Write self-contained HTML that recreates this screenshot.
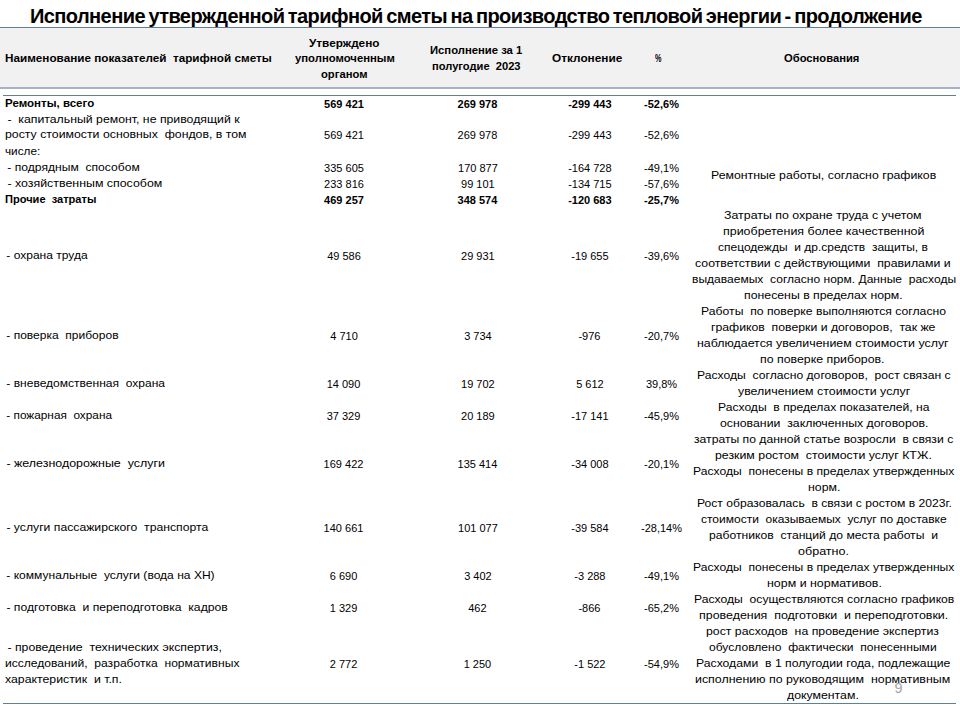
<!DOCTYPE html>
<html lang="ru"><head><meta charset="utf-8"><title>Исполнение утвержденной тарифной сметы</title>
<style>
html,body{margin:0;padding:0;background:#fff;}
body{width:960px;height:720px;position:relative;overflow:hidden;font-family:"Liberation Sans",sans-serif;color:#000;}
.hdr{position:absolute;left:0;top:27px;width:960px;height:60px;background:#f1f1f1;border-top:1px solid #637d98;}
.hl1{position:absolute;left:0;top:87px;width:960px;height:2px;background:#a7b2c6;}
.hl2{position:absolute;left:3px;top:95px;width:953px;height:1px;background:#5f7d9c;}
.hl3{position:absolute;left:3px;top:703px;width:953px;height:1px;background:#5f7d9c;}
.r,.b,.n,.nb,.t{position:absolute;white-space:pre;line-height:16px;transform-origin:0 0;}
.r{font-size:10.8px;}
.b{font-size:10.4px;font-weight:bold;}
.n{font-size:11.0px;}
.nb{font-size:11.0px;font-weight:bold;}
.t{font-size:20px;font-weight:bold;letter-spacing:-0.6px;word-spacing:-1.5px;}
.pg{position:absolute;left:894.4px;top:677.8px;font-size:14.5px;line-height:20px;color:#a6a6a6;}
</style></head><body>
<div class="hdr"></div><div class="hl1"></div><div class="hl2"></div><div class="hl3"></div>
<div class="pg">9</div>
<div class="b" style="left:4.57px;top:51.30px;transform:scaleX(1.1275);">Наименование показателей  тарифной сметы</div>
<div class="b" style="left:308.57px;top:35.50px;transform:scaleX(1.1339);">Утверждено</div>
<div class="b" style="left:294.63px;top:51.10px;transform:scaleX(1.0880);">уполномоченным</div>
<div class="b" style="left:320.79px;top:66.90px;transform:scaleX(1.0814);">органом</div>
<div class="b" style="left:430.33px;top:43.00px;transform:scaleX(1.0845);">Исполнение за 1</div>
<div class="b" style="left:431.59px;top:59.30px;transform:scaleX(1.0711);">полугодие  2023</div>
<div class="b" style="left:551.72px;top:51.20px;transform:scaleX(1.1377);">Отклонение</div>
<div class="b" style="left:654.66px;top:51.30px;transform:scaleX(0.7000);">%</div>
<div class="b" style="left:783.79px;top:51.30px;transform:scaleX(1.0786);">Обоснования</div>
<div class="b" style="left:5.21px;top:96.20px;transform:scaleX(1.1086);">Ремонты, всего</div>
<div class="r" style="left:4.37px;top:110.76px;transform:scaleX(1.1373);"> -  капитальный ремонт, не приводящий к</div>
<div class="r" style="left:5.21px;top:126.36px;transform:scaleX(1.1392);">росту стоимости основных  фондов, в том</div>
<div class="r" style="left:5.21px;top:142.66px;transform:scaleX(1.0875);">числе:</div>
<div class="r" style="left:3.94px;top:158.86px;transform:scaleX(1.1214);"> - подрядным  способом</div>
<div class="r" style="left:3.84px;top:175.16px;transform:scaleX(1.1470);"> - хозяйственным способом</div>
<div class="b" style="left:5.21px;top:191.80px;transform:scaleX(1.0640);">Прочие  затраты</div>
<div class="r" style="left:3.39px;top:247.01px;transform:scaleX(1.1130);"> - охрана труда</div>
<div class="r" style="left:3.40px;top:326.76px;transform:scaleX(1.1125);"> - поверка  приборов</div>
<div class="r" style="left:3.39px;top:374.96px;transform:scaleX(1.1141);"> - вневедомственная  охрана</div>
<div class="r" style="left:3.46px;top:407.06px;transform:scaleX(1.0938);"> - пожарная  охрана</div>
<div class="r" style="left:3.26px;top:455.16px;transform:scaleX(1.1504);"> - железнодорожные  услуги</div>
<div class="r" style="left:3.33px;top:518.51px;transform:scaleX(1.1303);"> - услуги пассажирского  транспорта</div>
<div class="r" style="left:3.38px;top:566.76px;transform:scaleX(1.1161);"> - коммунальные  услуги (вода на ХН)</div>
<div class="r" style="left:3.34px;top:598.86px;transform:scaleX(1.1276);"> - подготовка  и переподготовка  кадров</div>
<div class="r" style="left:4.37px;top:638.86px;transform:scaleX(1.1372);"> - проведение  технических экспертиз,</div>
<div class="r" style="left:4.58px;top:654.76px;transform:scaleX(1.1187);">исследований,  разработка  нормативных</div>
<div class="r" style="left:4.57px;top:670.76px;transform:scaleX(1.1382);">характеристик  и т.п.</div>
<div class="nb" style="left:324.12px;top:96.29px;">569 421</div>
<div class="nb" style="left:457.52px;top:96.29px;">269 978</div>
<div class="nb" style="left:568.18px;top:96.29px;">-299 443</div>
<div class="nb" style="left:644.07px;top:96.29px;">-52,6%</div>
<div class="n" style="left:324.12px;top:127.49px;">569 421</div>
<div class="n" style="left:457.52px;top:127.49px;">269 978</div>
<div class="n" style="left:568.18px;top:127.49px;">-299 443</div>
<div class="n" style="left:644.07px;top:127.49px;">-52,6%</div>
<div class="n" style="left:324.12px;top:159.99px;">335 605</div>
<div class="n" style="left:458.02px;top:159.99px;">170 877</div>
<div class="n" style="left:568.18px;top:159.99px;">-164 728</div>
<div class="n" style="left:644.07px;top:159.99px;">-49,1%</div>
<div class="n" style="left:324.12px;top:176.29px;">233 816</div>
<div class="n" style="left:461.07px;top:176.29px;">99 101</div>
<div class="n" style="left:568.18px;top:176.29px;">-134 715</div>
<div class="n" style="left:644.07px;top:176.29px;">-57,6%</div>
<div class="nb" style="left:324.12px;top:191.89px;">469 257</div>
<div class="nb" style="left:457.52px;top:191.89px;">348 574</div>
<div class="nb" style="left:568.18px;top:191.89px;">-120 683</div>
<div class="nb" style="left:644.07px;top:191.89px;">-25,7%</div>
<div class="n" style="left:327.17px;top:248.14px;">49 586</div>
<div class="n" style="left:461.07px;top:248.14px;">29 931</div>
<div class="n" style="left:571.24px;top:248.14px;">-19 655</div>
<div class="n" style="left:644.07px;top:248.14px;">-39,6%</div>
<div class="n" style="left:330.23px;top:327.89px;">4 710</div>
<div class="n" style="left:464.13px;top:327.89px;">3 734</div>
<div class="n" style="left:578.38px;top:327.89px;">-976</div>
<div class="n" style="left:644.07px;top:327.89px;">-20,7%</div>
<div class="n" style="left:326.67px;top:376.09px;">14 090</div>
<div class="n" style="left:461.07px;top:376.09px;">19 702</div>
<div class="n" style="left:576.13px;top:376.09px;">5 612</div>
<div class="n" style="left:645.90px;top:376.09px;">39,8%</div>
<div class="n" style="left:326.67px;top:408.19px;">37 329</div>
<div class="n" style="left:461.07px;top:408.19px;">20 189</div>
<div class="n" style="left:571.24px;top:408.19px;">-17 141</div>
<div class="n" style="left:644.07px;top:408.19px;">-45,9%</div>
<div class="n" style="left:323.62px;top:456.29px;">169 422</div>
<div class="n" style="left:457.52px;top:456.29px;">135 414</div>
<div class="n" style="left:571.24px;top:456.29px;">-34 008</div>
<div class="n" style="left:644.07px;top:456.29px;">-20,1%</div>
<div class="n" style="left:323.62px;top:519.64px;">140 661</div>
<div class="n" style="left:458.02px;top:519.64px;">101 077</div>
<div class="n" style="left:571.24px;top:519.64px;">-39 584</div>
<div class="n" style="left:641.01px;top:519.64px;">-28,14%</div>
<div class="n" style="left:329.73px;top:567.89px;">6 690</div>
<div class="n" style="left:464.13px;top:567.89px;">3 402</div>
<div class="n" style="left:574.30px;top:567.89px;">-3 288</div>
<div class="n" style="left:644.07px;top:567.89px;">-49,1%</div>
<div class="n" style="left:329.73px;top:599.99px;">1 329</div>
<div class="n" style="left:468.22px;top:599.99px;">462</div>
<div class="n" style="left:578.38px;top:599.99px;">-866</div>
<div class="n" style="left:644.07px;top:599.99px;">-65,2%</div>
<div class="n" style="left:329.73px;top:655.89px;">2 772</div>
<div class="n" style="left:463.63px;top:655.89px;">1 250</div>
<div class="n" style="left:574.30px;top:655.89px;">-1 522</div>
<div class="n" style="left:644.07px;top:655.89px;">-54,9%</div>
<div class="r" style="left:710.72px;top:166.76px;transform:scaleX(1.1383);">Ремонтные работы, согласно графиков</div>
<div class="r" style="left:724.14px;top:207.26px;transform:scaleX(1.1465);">Затраты по охране труда с учетом</div>
<div class="r" style="left:722.57px;top:223.24px;transform:scaleX(1.1517);">приобретения более качественной</div>
<div class="r" style="left:717.94px;top:239.22px;transform:scaleX(1.1117);">спецодежды  и др.средств  защиты, в</div>
<div class="r" style="left:695.14px;top:255.20px;transform:scaleX(1.1393);">соответствии с действующими  правилами и</div>
<div class="r" style="left:691.79px;top:271.18px;transform:scaleX(1.1153);">выдаваемых  согласно норм. Данные  расходы</div>
<div class="r" style="left:744.36px;top:287.16px;transform:scaleX(1.1391);">понесены в пределах норм.</div>
<div class="r" style="left:700.51px;top:303.14px;transform:scaleX(1.1306);">Работы  по поверке выполняются согласно</div>
<div class="r" style="left:710.79px;top:319.12px;transform:scaleX(1.1343);">графиков  поверки и договоров,  так же</div>
<div class="r" style="left:696.71px;top:335.10px;transform:scaleX(1.1475);">наблюдается увеличением стоимости услуг</div>
<div class="r" style="left:760.14px;top:351.08px;transform:scaleX(1.1426);">по поверке приборов.</div>
<div class="r" style="left:696.51px;top:367.06px;transform:scaleX(1.1263);">Расходы  согласно договоров,  рост связан с</div>
<div class="r" style="left:737.64px;top:383.04px;transform:scaleX(1.1450);">увеличением стоимости услуг</div>
<div class="r" style="left:717.51px;top:399.02px;transform:scaleX(1.1218);">Расходы  в пределах показателей, на</div>
<div class="r" style="left:719.57px;top:415.00px;transform:scaleX(1.1390);">основании  заключенных договоров.</div>
<div class="r" style="left:693.72px;top:430.98px;transform:scaleX(1.1271);">затраты по данной статье возросли  в связи с</div>
<div class="r" style="left:714.71px;top:446.96px;transform:scaleX(1.1418);">резким ростом  стоимости услуг КТЖ.</div>
<div class="r" style="left:692.94px;top:462.94px;transform:scaleX(1.1224);">Расходы  понесены в пределах утвержденных</div>
<div class="r" style="left:807.57px;top:478.92px;transform:scaleX(1.1393);">норм.</div>
<div class="r" style="left:696.51px;top:494.90px;transform:scaleX(1.1226);">Рост образовалась  в связи с ростом в 2023г.</div>
<div class="r" style="left:700.73px;top:510.88px;transform:scaleX(1.1109);">стоимости  оказываемых  услуг по доставке</div>
<div class="r" style="left:709.15px;top:526.86px;transform:scaleX(1.1246);">работников  станций до места работы  и</div>
<div class="r" style="left:797.70px;top:542.84px;transform:scaleX(1.1628);">обратно.</div>
<div class="r" style="left:692.94px;top:558.82px;transform:scaleX(1.1224);">Расходы  понесены в пределах утвержденных</div>
<div class="r" style="left:766.50px;top:574.80px;transform:scaleX(1.1495);">норм и нормативов.</div>
<div class="r" style="left:693.72px;top:590.78px;transform:scaleX(1.1261);">Расходы  осуществляются согласно графиков</div>
<div class="r" style="left:699.28px;top:606.76px;transform:scaleX(1.1502);">проведения  подготовки  и переподготовки.</div>
<div class="r" style="left:706.29px;top:622.74px;transform:scaleX(1.1382);">рост расходов  на проведение экспертиз</div>
<div class="r" style="left:709.15px;top:638.72px;transform:scaleX(1.1177);">обусловлено  фактически  понесенными</div>
<div class="r" style="left:695.72px;top:654.70px;transform:scaleX(1.1304);">Расходами  в 1 полугодии года, подлежащие</div>
<div class="r" style="left:695.14px;top:670.68px;transform:scaleX(1.1482);">исполнению по руководящим  нормативным</div>
<div class="r" style="left:787.36px;top:686.66px;transform:scaleX(1.1387);">документам.</div>
<div class="t" style="left:30.40px;top:7.82px;transform:scaleX(1.0019);">Исполнение утвержденной тарифной сметы на производство тепловой энергии - продолжение</div>
</body></html>
